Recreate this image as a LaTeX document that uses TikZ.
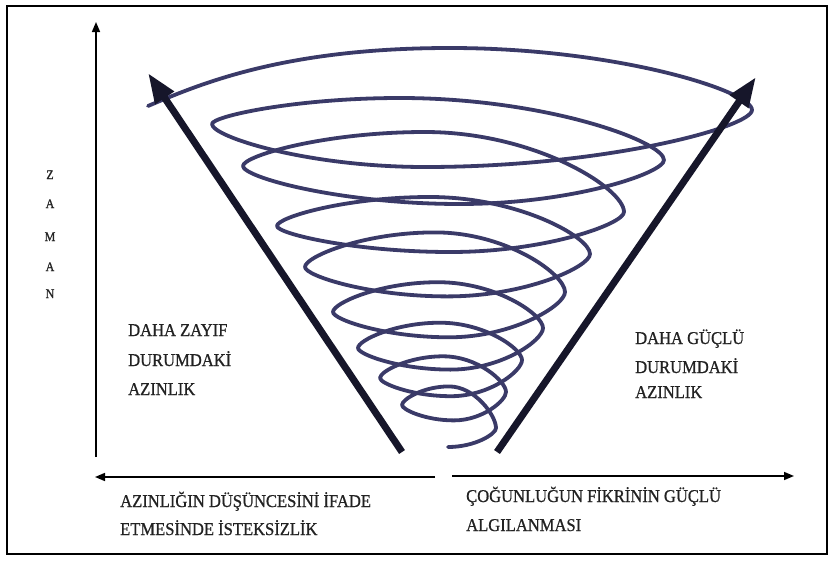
\documentclass[tikz,border=0pt]{standalone}
\usepackage{fontspec}
\setmainfont{Liberation Serif}
\newfontfamily\lblfont{Liberation Serif}[FakeStretch=0.92,FakeBold=0.8]
\usetikzlibrary{arrows.meta}
\definecolor{spiralc}{HTML}{3A3A68}
\definecolor{arrowc}{HTML}{16162A}
\definecolor{textc}{HTML}{222222}
\begin{document}
\begin{tikzpicture}[x=1pt,y=-1pt,
  spiral/.style={draw=spiralc, line width=3.8pt, line cap=round},
  bigarrow/.style={draw=arrowc, line width=7pt, -{Triangle[length=30pt,width=21pt]}},
  axis/.style={draw=black, line width=1.6pt, -{Triangle[length=10pt,width=8pt]}},
  lbl/.style={anchor=base west, inner sep=0pt, text=textc, font=\lblfont\fontsize{18}{20}\selectfont},
  zlbl/.style={anchor=base, inner sep=0pt, text=textc, font=\lblfont\fontsize{13}{14}\selectfont}]
\useasboundingbox (0,0) rectangle (834,562);
\fill[white] (0,0) rectangle (834,562);
\draw[line width=1.5pt] (7,6) rectangle (827,554);

% spiral
\draw[spiral] (448,447) .. controls (475,447) and (496,434) .. (496,428);
\foreach \ax/\ay/\bx/\by/\mx/\my in {
 496/428/402/405/449/386.4,
 402/405/506/392/454/420.4,
 506/392/380/378/443/356.3,
 380/378/522/360/451/396.2,
 522/360/358/348/440/322.7,
 358/348/543/328/450.5/369.6,
 543/328/333/312/438/282.2,
 333/312/565/292/449/337.3,
 565/292/305/267/435/232.4,
 305/267/590/254/447.5/296.4,
 590/254/277/226/430/197,
 277/226/624/212/450.5/252,
 624/212/243/166/425/132,
 243/166/664/160/460/204,
 664/160/212/124/400/98,
 212/124/752/110/425/167}{
  \draw[spiral] (\ax,\ay) .. controls (\ax,{\ay+0.3*(\my-\ay)}) and ({\mx+0.55*(\ax-\mx)},\my) .. (\mx,\my)
     .. controls ({\mx+0.55*(\bx-\mx)},\my) and (\bx,{\by+0.3*(\my-\by)}) .. (\bx,\by);
}
\draw[spiral] (752,110) .. controls (752,91) and (616,48) .. (450,48)
   .. controls (284,48) and (200,84) .. (148,106);

% thick arrows
\coordinate (lb) at (402,452);
\coordinate (lt) at (148,73);
\coordinate (rb) at (497,452);
\coordinate (rt) at (756,77);
\draw[bigarrow] (lb) -- (lt);
\draw[bigarrow] (rb) -- (rt);

% axes
\coordinate (vb) at (96,457);
\coordinate (vt) at (96,22);
\coordinate (hl0) at (435,477);
\coordinate (hl1) at (95,477);
\coordinate (hr0) at (452,476);
\coordinate (hr1) at (794,476);
\draw[axis] (vb) -- (vt);
\draw[axis] (hl0) -- (hl1);
\draw[axis] (hr0) -- (hr1);

% ZAMAN
\node[zlbl] (z1) at (50,179) {Z};
\node[zlbl] (z2) at (50,208) {A};
\node[zlbl] (z3) at (50,241) {M};
\node[zlbl] (z4) at (50,271) {A};
\node[zlbl] (z5) at (50,298) {N};

% labels
\node[lbl] (l1) at (128,336) {DAHA ZAYIF};
\node[lbl] (l2) at (128,366) {DURUMDAKİ};
\node[lbl] (l3) at (128,395) {AZINLIK};
\node[lbl] (r1) at (635,344) {DAHA GÜÇLÜ};
\node[lbl] (r2) at (635,373) {DURUMDAKİ};
\node[lbl] (r3) at (635,398) {AZINLIK};
\node[lbl] (b1) at (120,507) {AZINLIĞIN DÜŞÜNCESİNİ İFADE};
\node[lbl] (b2) at (120,535) {ETMESİNDE İSTEKSİZLİK};
\node[lbl] (c1) at (466,502) {ÇOĞUNLUĞUN FİKRİNİN GÜÇLÜ};
\node[lbl] (c2) at (466,531) {ALGILANMASI};
\end{tikzpicture}
\end{document}
